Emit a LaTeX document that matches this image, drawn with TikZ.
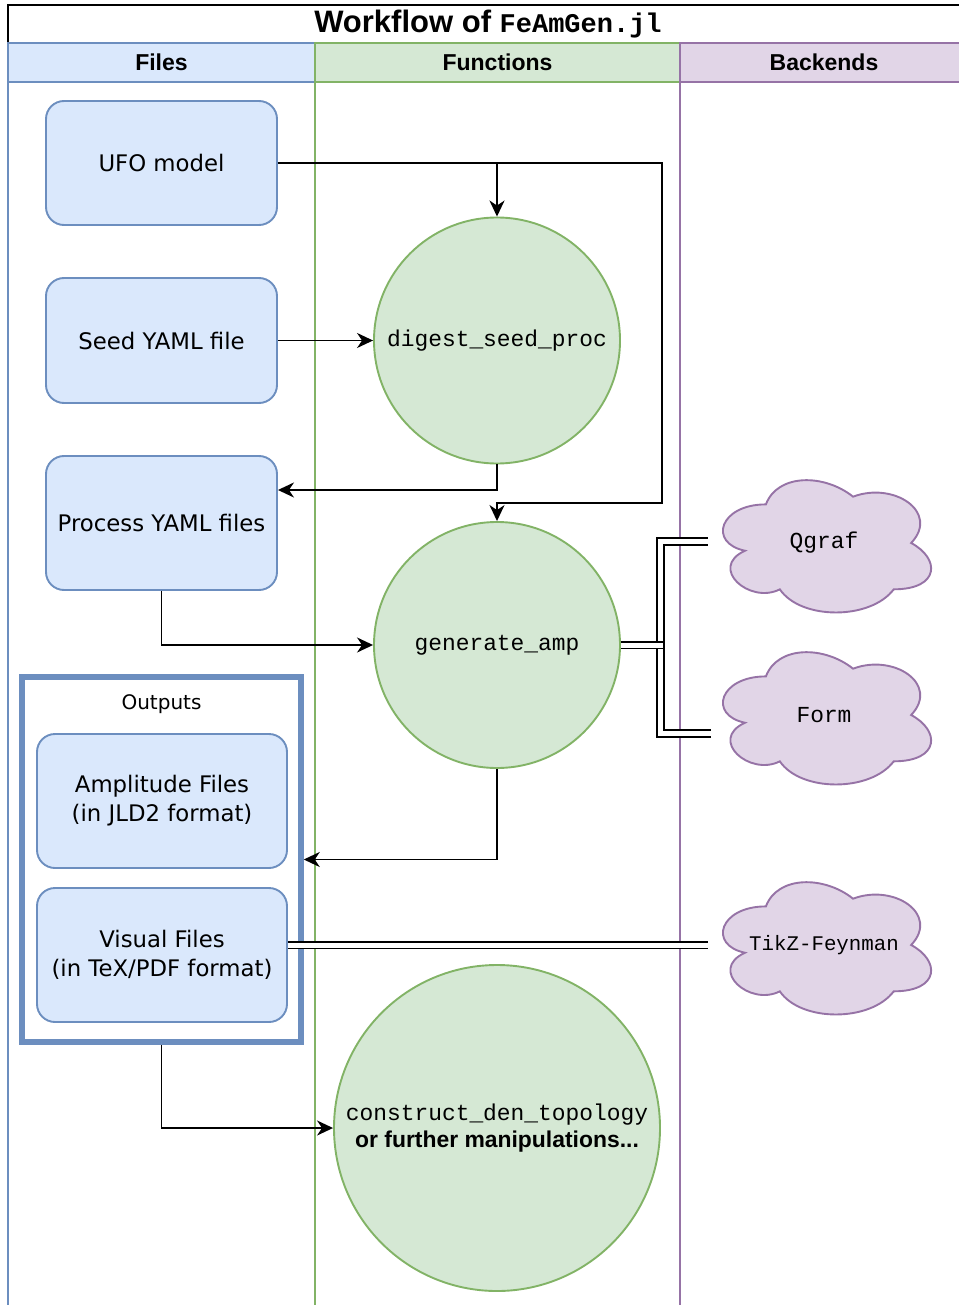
\documentclass[tikz,border=0pt]{standalone}
\usepackage{fontspec}
\setmainfont{DejaVu Sans}
\newfontfamily\hdrfont{Liberation Sans}
\setmonofont{Liberation Mono}
\usetikzlibrary{arrows.meta,calc,backgrounds}
\definecolor{bfill}{HTML}{DAE8FC}
\definecolor{bline}{HTML}{6C8EBF}
\definecolor{gfill}{HTML}{D5E8D4}
\definecolor{gline}{HTML}{82B366}
\definecolor{pfill}{HTML}{E1D5E7}
\definecolor{pline}{HTML}{9673A6}
\newcommand\cloudshape[1]{%
 \path[cloudst] let \p1=(#1.north west), \p2=(#1.south east), \n1={\x2-\x1}, \n2={\y1-\y2} in
  (\x1+0.25*\n1,\y1-0.25*\n2) .. controls (\x1+0.05*\n1,\y1-0.25*\n2) and (\x1,\y1-0.5*\n2) .. (\x1+0.16*\n1,\y1-0.55*\n2)
  .. controls (\x1,\y1-0.66*\n2) and (\x1+0.18*\n1,\y1-0.9*\n2) .. (\x1+0.31*\n1,\y1-0.8*\n2)
  .. controls (\x1+0.4*\n1,\y1-\n2) and (\x1+0.7*\n1,\y1-\n2) .. (\x1+0.8*\n1,\y1-0.8*\n2)
  .. controls (\x1+\n1,\y1-0.8*\n2) and (\x1+\n1,\y1-0.6*\n2) .. (\x1+0.875*\n1,\y1-0.5*\n2)
  .. controls (\x1+\n1,\y1-0.3*\n2) and (\x1+0.8*\n1,\y1-0.1*\n2) .. (\x1+0.625*\n1,\y1-0.2*\n2)
  .. controls (\x1+0.5*\n1,\y1-0.05*\n2) and (\x1+0.3*\n1,\y1-0.05*\n2) .. (\x1+0.25*\n1,\y1-0.25*\n2) -- cycle;}
\begin{document}
\begin{tikzpicture}[x=1pt,y=-1pt,
  lw/.style={line width=1.9pt},
  hdr/.style={draw, lw, minimum height=39pt, inner sep=0pt, font=\hdrfont\bfseries\fontsize{23}{23}\selectfont},
  bodyfont/.style={font=\fontsize{22.8}{29}\selectfont},
  filebox/.style={draw=bline, fill=bfill, lw, rounded corners=18pt, minimum width=231pt, minimum height=124pt, inner sep=3pt, align=center, bodyfont},
  outbox/.style={draw=bline, line width=5.5pt, minimum width=279pt, minimum height=365pt, inner sep=0pt},
  funcircle/.style={circle, draw=gline, fill=gfill, lw, inner sep=0pt, align=center, font=\ttfamily\fontsize{22.9}{27}\selectfont},
  cloudbox/.style={rectangle, minimum width=232pt, minimum height=154pt, inner sep=0pt, font=\ttfamily\fontsize{22.9}{27}\selectfont},
  cloudst/.style={draw=pline, fill=pfill, lw},
  arr/.style={lw, -{Stealth[length=16pt,width=15pt,inset=5pt]}},
  dbl/.style={lw, double=white, double distance=5pt},
]
\useasboundingbox (0,0) rectangle (958,1305);
% title
\node[draw=black, lw, minimum width=960pt, minimum height=38pt, inner sep=0pt] (title) at (488,24)
  {\hdrfont\bfseries\fontsize{31}{31}\selectfont Workflow of {\ttfamily\fontsize{27}{27}\selectfont FeAmGen.jl}};
% lanes
\draw[bline, lw] (8,82) -- (8,1310);
\draw[gline, lw] (315,82) -- (315,1310);
\draw[pline, lw] (680,82) -- (680,1310);
\node[hdr, draw=bline, fill=bfill, minimum width=307pt] (hfiles) at (161.5,62.5) {Files};
\node[hdr, draw=gline, fill=gfill, minimum width=365pt] (hfun) at (497.5,62.5) {Functions};
\node[hdr, draw=pline, fill=pfill, minimum width=288pt] (hback) at (824,62.5) {Backends};
% file nodes
\node[filebox] (ufo) at (161.5,163) {UFO model};
\node[filebox, minimum height=125pt] (seed) at (161.5,340.5) {Seed YAML file};
\node[filebox, minimum height=134pt] (proc) at (161.5,523) {Process YAML files};
\node[outbox] (out) at (161.5,859.5) {};
\node[font=\fontsize{20}{24}\selectfont] (outlbl) at (161.5,704) {Outputs};
\node[filebox, minimum width=250pt, minimum height=134pt] (amp) at (162,801) {Amplitude Files\\(in JLD2 format)};
\node[filebox, minimum width=250pt, minimum height=134pt] (vis) at (162,955) {Visual Files\\(in TeX/PDF format)};
% functions
\node[funcircle, minimum size=246pt] (dig) at (497,340.5) {digest\_seed\_proc};
\node[funcircle, minimum size=246pt] (gen) at (497,645) {generate\_amp};
\node[funcircle, minimum size=326pt] (con) at (497,1128) {construct\_den\_topology\\{\hdrfont\bfseries or further manipulations...}};
% backends
\node[cloudbox] (q) at (824,543) {Qgraf};
\node[cloudbox] (f) at (824,715) {Form};
\node[cloudbox, font=\ttfamily\fontsize{20.8}{25}\selectfont] (tf) at (824,945) {TikZ-Feynman};
\begin{pgfonlayer}{background}
\cloudshape{q}
\cloudshape{f}
\cloudshape{tf}
\end{pgfonlayer}
% connectors
\draw[arr] (ufo.east) -| (dig.north);
\draw[arr] (ufo.east) -- ++(384,0) -- ++(0,340) -| (gen.north);
\draw[arr] (seed.east) -- (dig.west);
\draw[arr] (dig.south) |- ([yshift=33pt]proc.east);
\draw[arr] (proc.south) |- (gen.west);
\draw[arr] (gen.south) |- (out.east);
\draw[arr] (out.south) |- (con.west);
% double links to backends
\coordinate (jn) at (660.5,645);
\draw[dbl] ([yshift=1.5pt]q.west) -| (jn) |- ([yshift=-18.5pt,xshift=3pt]f.west);
\draw[dbl] (gen.east) -- ([xshift=2.5pt]jn);
\draw[dbl] (vis.east |- tf.west) -- (tf.west);
\end{tikzpicture}
\end{document}
